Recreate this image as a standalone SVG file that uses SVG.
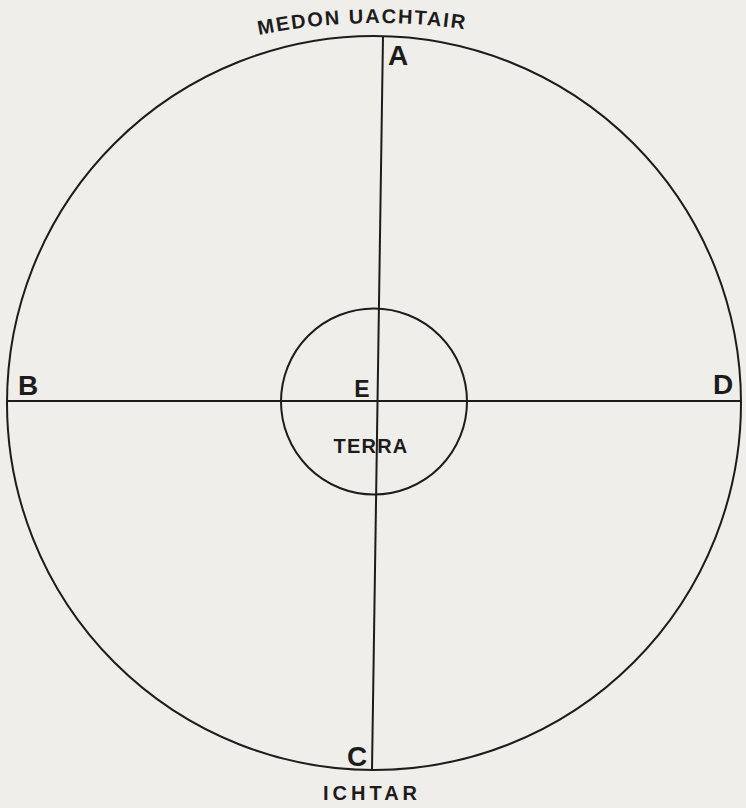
<svg xmlns="http://www.w3.org/2000/svg" width="746" height="808" viewBox="0 0 746 808">
<style>
.ln{fill:none;stroke:#1c1c1c;stroke-width:2}
.lbl{font-family:"Liberation Sans",Arial,sans-serif;font-weight:bold;fill:#1c1c1c}
.big{font-size:28px}
.small{font-size:20px}
</style>
<defs>
<path id="topArc" d="M 180 56.8 A 597 597 0 0 1 576 56.8"/>
</defs>
<rect width="746" height="808" fill="#efeeea"/>
<g id="outer-circle"><circle class="ln" cx="374" cy="403" r="367"/></g>
<g id="terra"><circle class="ln" cx="374" cy="401.5" r="93"/>
<text class="lbl small" x="371" y="453" text-anchor="middle" letter-spacing="1.2">TERRA</text></g>
<g id="connectors">
<line class="ln" x1="383" y1="36" x2="372" y2="770"/>
<line class="ln" x1="7" y1="401" x2="740" y2="401"/>
</g>
<g id="A"><text class="lbl big" x="398" y="65" text-anchor="middle">A</text></g>
<g id="B"><text class="lbl big" x="28" y="395" text-anchor="middle">B</text></g>
<g id="D"><text class="lbl big" x="723" y="394" text-anchor="middle">D</text></g>
<g id="C"><text class="lbl big" x="357" y="766" text-anchor="middle">C</text></g>
<g id="E"><text class="lbl" font-size="23" x="362" y="397" text-anchor="middle">E</text></g>
<g id="medon-uachtair"><text class="lbl small" letter-spacing="1.8"><textPath href="#topArc" startOffset="186" text-anchor="middle">MEDON UACHTAIR</textPath></text></g>
<g id="ichtar"><text class="lbl small" x="372" y="800" text-anchor="middle" letter-spacing="4">ICHTAR</text></g>
</svg>
